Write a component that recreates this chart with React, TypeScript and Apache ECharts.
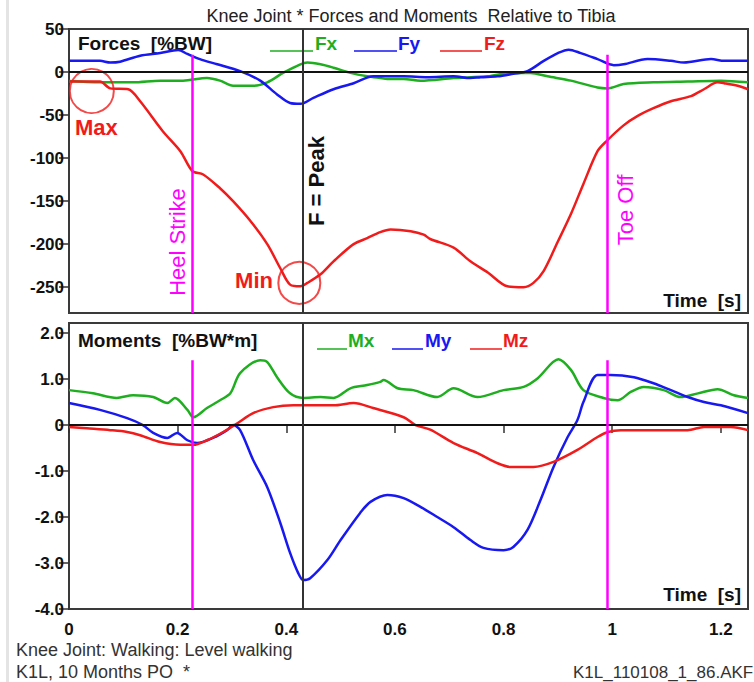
import React, { useEffect, useRef } from 'react';
import * as echarts from 'echarts';

// ---- axes / ticks ----
const xTicks = [0, 0.2, 0.4, 0.6, 0.8, 1, 1.2];
const forceTicks = [-250, -200, -150, -100, -50, 0, 50];
const momentTicks = [-4, -3, -2, -1, 0, 1, 2];

// ---- events [s] ----
const heelStrike = 0.227;
const peakTime = 0.428;
const toeOff = 0.991;

// ---- forces [%BW] : [time, value] ----
const fx: [number, number][] = [
  [0.0, -10.5], [0.057, -12], [0.118, -12], [0.168, -10], [0.21, -10], [0.254, -7], [0.278, -10],
  [0.302, -16], [0.339, -16], [0.365, -12], [0.394, -1], [0.426, 9], [0.439, 11], [0.463, 9],
  [0.487, 5], [0.518, -1], [0.549, -5], [0.573, -7], [0.586, -8], [0.616, -8], [0.647, -10],
  [0.708, -7], [0.771, -5], [0.813, -1], [0.85, -1], [0.881, -5], [0.924, -10], [0.973, -18],
  [0.992, -19], [1.021, -14], [1.076, -12], [1.139, -11], [1.2, -10], [1.25, -12],
];
const fy: [number, number][] = [
  [0.0, 13], [0.057, 13], [0.076, 11], [0.094, 12], [0.131, 19], [0.168, 22], [0.201, 25.5],
  [0.218, 21], [0.241, 15], [0.273, 9], [0.315, 1], [0.352, -10], [0.383, -26], [0.407, -36],
  [0.426, -37], [0.45, -30], [0.487, -20], [0.524, -13], [0.56, -5], [0.586, -5], [0.616, -5],
  [0.66, -6], [0.708, -5], [0.739, -7], [0.758, -6], [0.789, -5], [0.818, -2], [0.844, 1],
  [0.874, 13], [0.9, 22], [0.92, 26], [0.942, 22], [0.973, 15], [1.003, 8], [1.021, 9],
  [1.065, 15], [1.108, 13], [1.132, 11], [1.182, 15], [1.206, 13], [1.25, 13],
];
const fz: [number, number][] = [
  [0.0, -11], [0.057, -11], [0.076, -19], [0.109, -20], [0.131, -34], [0.173, -69], [0.205, -92],
  [0.227, -115], [0.247, -119], [0.278, -135], [0.302, -150], [0.334, -173], [0.365, -200],
  [0.389, -228], [0.407, -247], [0.426, -249], [0.439, -245], [0.463, -235], [0.487, -220],
  [0.524, -200], [0.549, -193], [0.573, -186], [0.592, -183], [0.629, -185], [0.653, -189],
  [0.665, -194], [0.708, -204], [0.739, -220], [0.771, -233], [0.807, -249], [0.837, -250],
  [0.855, -245], [0.874, -231], [0.9, -197], [0.924, -165], [0.947, -130], [0.973, -92],
  [0.99, -80], [1.021, -62], [1.047, -51], [1.076, -42], [1.108, -34], [1.145, -28],
  [1.169, -20], [1.194, -12], [1.206, -13], [1.231, -16], [1.25, -20],
];

// ---- moments [%BW*m] : [time, value] ----
const mx: [number, number][] = [
  [0.0, 0.76], [0.044, 0.69], [0.088, 0.59], [0.118, 0.65], [0.155, 0.61], [0.181, 0.48],
  [0.195, 0.59], [0.218, 0.33], [0.229, 0.17], [0.254, 0.37], [0.278, 0.54], [0.297, 0.69],
  [0.315, 1.13], [0.352, 1.41], [0.365, 1.37], [0.383, 1.04], [0.407, 0.69], [0.431, 0.59],
  [0.463, 0.61], [0.487, 0.59], [0.518, 0.8], [0.549, 0.87], [0.573, 0.94], [0.579, 0.98],
  [0.605, 0.8], [0.634, 0.76], [0.678, 0.61], [0.708, 0.8], [0.752, 0.61], [0.8, 0.76],
  [0.837, 0.83], [0.863, 1.02], [0.901, 1.43], [0.924, 1.2], [0.947, 0.76], [0.984, 0.59],
  [1.01, 0.54], [1.034, 0.72], [1.058, 0.83], [1.095, 0.76], [1.126, 0.61], [1.158, 0.69],
  [1.194, 0.78], [1.224, 0.65], [1.25, 0.59],
];
const my: [number, number][] = [
  [0.0, 0.48], [0.057, 0.33], [0.107, 0.15], [0.136, 0], [0.155, -0.17], [0.181, -0.28],
  [0.199, -0.17], [0.218, -0.33], [0.236, -0.39], [0.265, -0.28], [0.291, -0.11], [0.302, 0],
  [0.315, -0.11], [0.339, -0.76], [0.365, -1.35], [0.389, -2.13], [0.407, -2.78], [0.422, -3.22],
  [0.431, -3.37], [0.444, -3.33], [0.476, -2.93], [0.5, -2.5], [0.536, -1.91], [0.555, -1.67],
  [0.586, -1.52], [0.616, -1.59], [0.647, -1.78], [0.678, -2.0], [0.708, -2.22], [0.739, -2.5],
  [0.763, -2.67], [0.8, -2.72], [0.818, -2.65], [0.844, -2.28], [0.868, -1.63], [0.892, -0.91],
  [0.918, -0.26], [0.936, 0.11], [0.947, 0.5], [0.973, 1.09], [0.997, 1.09], [1.04, 1.04],
  [1.076, 0.91], [1.108, 0.76], [1.139, 0.61], [1.169, 0.5], [1.2, 0.43], [1.25, 0.26],
];
const mz: [number, number][] = [
  [0.0, -0.04], [0.033, -0.07], [0.076, -0.11], [0.107, -0.15], [0.131, -0.22], [0.168, -0.37],
  [0.205, -0.43], [0.229, -0.43], [0.254, -0.33], [0.284, -0.15], [0.31, 0.04], [0.339, 0.26],
  [0.376, 0.39], [0.413, 0.43], [0.439, 0.43], [0.487, 0.43], [0.524, 0.48], [0.56, 0.37],
  [0.616, 0.17], [0.638, 0], [0.665, -0.1], [0.708, -0.39], [0.752, -0.61], [0.789, -0.83],
  [0.813, -0.91], [0.855, -0.91], [0.892, -0.8], [0.936, -0.54], [0.973, -0.26], [0.992, -0.15],
  [1.016, -0.11], [1.076, -0.11], [1.139, -0.11], [1.169, -0.04], [1.218, -0.04], [1.25, -0.11],
];

// ---- annotated extremes ----
const maxMark: [number, number][] = [[0.042, -22]];
const minMark: [number, number][] = [[0.424, -245]];

const GREEN = '#1fae1f';
const BLUE = '#1818f0';
const RED = '#f01c1c';
const MAGENTA = '#ff00ff';
const FONT = "'Liberation Sans', Arial, sans-serif";

export default function App() {
  const ref = useRef<HTMLDivElement>(null);
  useEffect(() => {
    const chart = echarts.init(ref.current!, null, { renderer: 'svg' });

    const curve = (name: string, data: [number, number][], color: string, idx: number) => ({
      name,
      type: 'line',
      xAxisIndex: idx,
      yAxisIndex: idx,
      data,
      showSymbol: false,
      smooth: 0.3,
      silent: true,
      lineStyle: { color, width: 2.5 },
      itemStyle: { color },
      z: 3,
    });

    const guides = (idx: number, top: number, bottom: number) => ({
      type: 'line',
      xAxisIndex: idx,
      yAxisIndex: idx,
      data: [],
      silent: true,
      z: 2,
      markLine: {
        silent: true,
        symbol: ['none', 'none'],
        label: { show: false },
        animation: false,
        data: [
          { yAxis: 0, lineStyle: { color: '#111', width: 2, type: 'solid' } },
          { xAxis: peakTime, lineStyle: { color: '#333', width: 2, type: 'solid' } },
          [
            { coord: [heelStrike, top], lineStyle: { color: MAGENTA, width: 2.5, type: 'solid' } },
            { coord: [heelStrike, bottom] },
          ],
          [
            { coord: [toeOff, top], lineStyle: { color: MAGENTA, width: 2.5, type: 'solid' } },
            { coord: [toeOff, bottom] },
          ],
        ],
      },
    });

    const circle = (data: [number, number][], size: number) => ({
      type: 'scatter',
      xAxisIndex: 0,
      yAxisIndex: 0,
      data,
      symbol: 'circle',
      symbolSize: size,
      silent: true,
      z: 4,
      itemStyle: { color: 'rgba(0,0,0,0)', borderColor: RED, borderWidth: 2 },
    });

    const txt = (text: string, x: number, y: number, size: number, fill: string, opts: any = {}) => ({
      type: 'text',
      x,
      y,
      rotation: opts.rotation || 0,
      silent: true,
      style: {
        text,
        fill,
        font: `${opts.bold ? 'bold ' : ''}${size}px ${FONT}`,
        textAlign: opts.align || 'left',
        textVerticalAlign: 'middle',
        align: opts.align || 'left',
        verticalAlign: 'middle',
      },
    });
    const seg = (x1: number, x2: number, y: number, stroke: string) => ({
      type: 'line',
      silent: true,
      shape: { x1, y1: y, x2, y2: y },
      style: { stroke, lineWidth: 1.5 },
    });

    const yAxisBase = {
      type: 'value',
      axisLine: { show: false },
      splitLine: { show: false },
    };

    const option: any = {
      animation: false,
      backgroundColor: '#ffffff',
      grid: [
        { left: 69, top: 29, width: 679, height: 284, show: true, borderColor: '#3a3a3a', borderWidth: 2, backgroundColor: 'transparent' },
        { left: 69, top: 323, width: 679, height: 286, show: true, borderColor: '#3a3a3a', borderWidth: 2, backgroundColor: 'transparent' },
      ],
      xAxis: [
        {
          type: 'value', gridIndex: 0, min: 0, max: 1.25,
          axisLine: { show: false }, axisTick: { show: false }, axisLabel: { show: false }, splitLine: { show: false },
        },
        {
          type: 'value', gridIndex: 1, min: 0, max: 1.25,
          axisLine: { show: false }, splitLine: { show: false },
          axisTick: { show: true, customValues: xTicks, length: 8, lineStyle: { color: '#333', width: 1.5 } },
          axisLabel: {
            customValues: xTicks, margin: 12, fontSize: 17, fontWeight: 'bold', color: '#111', fontFamily: FONT,
            formatter: (v: number) => String(v),
          },
        },
      ],
      yAxis: [
        {
          ...yAxisBase, gridIndex: 0, min: -280, max: 50,
          axisTick: { show: true, customValues: forceTicks, length: 10, lineStyle: { color: '#333', width: 1.5 } },
          axisLabel: { customValues: forceTicks, margin: 5, fontSize: 17, fontWeight: 'bold', color: '#111', fontFamily: FONT },
        },
        {
          ...yAxisBase, gridIndex: 1, min: -4, max: 2.22,
          axisTick: { show: true, customValues: momentTicks, length: 10, lineStyle: { color: '#333', width: 1.5 } },
          axisLabel: {
            customValues: momentTicks, margin: 5, fontSize: 17, fontWeight: 'bold', color: '#111', fontFamily: FONT,
            formatter: (v: number) => (v === 0 ? '0' : v.toFixed(1)),
          },
        },
      ],
      series: [
        guides(0, 20, -280),
        guides(1, 1.41, -4),
        curve('Fx', fx, GREEN, 0),
        curve('Fy', fy, BLUE, 0),
        curve('Fz', fz, RED, 0),
        curve('Mx', mx, GREEN, 1),
        curve('My', my, BLUE, 1),
        curve('Mz', mz, RED, 1),
        circle(maxMark, 44),
        circle(minMark, 42),
      ],
      graphic: [
        { type: 'rect', silent: true, shape: { x: 6, y: 0, width: 3, height: 682 }, style: { fill: '#e4e4e4' } },
        txt('Knee Joint * Forces and Moments  Relative to Tibia', 411, 16, 18, '#222', { align: 'center' }),
        txt('Forces  [%BW]', 78, 43, 19, '#111', { bold: true }),
        seg(270, 313, 51, GREEN), txt('Fx', 315, 43, 19, GREEN, { bold: true }),
        seg(354, 397, 51, BLUE), txt('Fy', 398, 43, 19, BLUE, { bold: true }),
        seg(440, 482, 51, RED), txt('Fz', 484, 43, 19, RED, { bold: true }),
        txt('Time  [s]', 741, 300, 19, '#111', { bold: true, align: 'right' }),
        txt('Moments  [%BW*m]', 78, 340, 19, '#111', { bold: true }),
        seg(317, 347, 349, GREEN), txt('Mx', 348, 340, 19, GREEN, { bold: true }),
        seg(392, 423, 349, BLUE), txt('My', 425, 340, 19, BLUE, { bold: true }),
        seg(470, 502, 349, RED), txt('Mz', 503, 340, 19, RED, { bold: true }),
        txt('Time  [s]', 741, 594, 19, '#111', { bold: true, align: 'right' }),
        txt('Max', 75, 127, 22, RED, { bold: true }),
        txt('Min', 273, 280, 22, RED, { bold: true, align: 'right' }),
        txt('Heel Strike', 177, 242, 22, MAGENTA, { align: 'center', rotation: Math.PI / 2 }),
        txt('F = Peak', 316, 181, 22, '#111', { bold: true, align: 'center', rotation: Math.PI / 2 }),
        txt('Toe Off', 625, 210, 22, MAGENTA, { align: 'center', rotation: Math.PI / 2 }),
        txt('Knee Joint: Walking: Level walking', 16, 650, 18, '#333'),
        txt('K1L, 10 Months PO  *', 16, 672, 18, '#333'),
        txt('K1L_110108_1_86.AKF', 573, 672, 17, '#333'),
      ],
    };

    chart.setOption(option);
    return () => chart.dispose();
  }, []);

  return (
    <div
      ref={ref}
      style={{ position: 'fixed', left: 0, top: 0, width: 754, height: 682, background: '#fff' }}
    />
  );
}
